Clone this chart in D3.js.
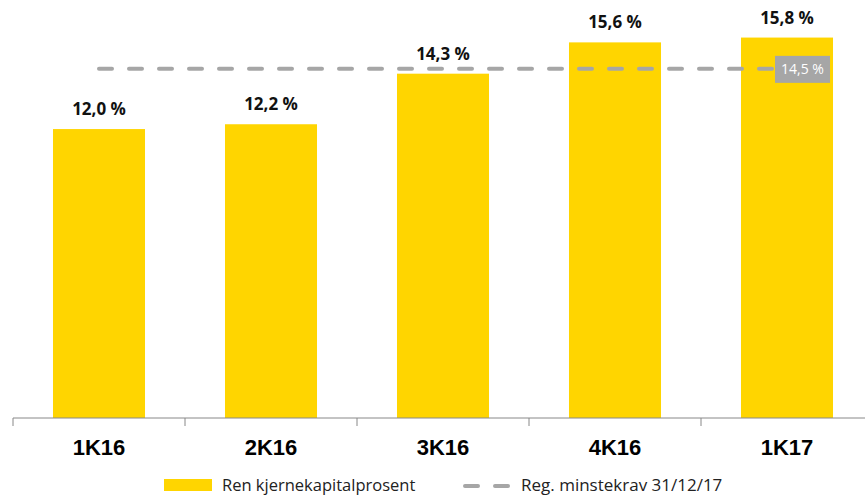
<!DOCTYPE html>
<html>
<head>
<meta charset="utf-8">
<script src="https://cdn.jsdelivr.net/npm/d3@7"></script>
<style>
  html, body { margin: 0; padding: 0; background: #ffffff; }
  svg { display: block; }
</style>
</head>
<body>
<svg id="chart" width="865" height="500"></svg>
<script>
// Quarterly CET1 ratio (percent) against the regulatory minimum
const categories = ["1K16", "2K16", "3K16", "4K16", "1K17"];
const ratioValues = [12.0, 12.2, 14.3, 15.6, 15.8];
const requirementValues = [14.5, 14.5, 14.5, 14.5, 14.5];
const seriesNames = ["Ren kjernekapitalprosent", "Reg. minstekrav 31/12/17"];

const fmt = v => d3.format(".1f")(v).replace(".", ",") + " %";

const svg = d3.select("#chart");
const baseY = 418;

const x = d3.scaleBand()
  .domain(categories)
  .range([13, 873])
  .paddingInner(0.465)
  .paddingOuter(0.2325);

const y = d3.scaleLinear()
  .domain([0, 17.36])
  .range([baseY, 0]);

const barColor = "#FFD500";
const lineColor = "#A6A6A6";

// Bars
svg.append("g")
  .selectAll("rect")
  .data(ratioValues)
  .join("rect")
  .attr("x", (d, i) => x(categories[i]))
  .attr("y", d => y(d))
  .attr("width", x.bandwidth())
  .attr("height", d => baseY - y(d))
  .attr("fill", barColor);

// Bar value labels
svg.append("g")
  .selectAll("text")
  .data(ratioValues)
  .join("text")
  .attr("x", (d, i) => x(categories[i]) + x.bandwidth() / 2)
  .attr("y", d => y(d) - 14)
  .attr("text-anchor", "middle")
  .attr("font-family", "'Open Sans', sans-serif")
  .attr("font-weight", 700)
  .attr("font-size", 17)
  .attr("fill", "#111")
  .text(d => fmt(d));

// Regulatory requirement line
const line = d3.line()
  .x((d, i) => x(categories[i]) + x.bandwidth() / 2)
  .y(d => y(d));

svg.append("path")
  .datum(requirementValues)
  .attr("d", line)
  .attr("fill", "none")
  .attr("stroke", lineColor)
  .attr("stroke-width", 4)
  .attr("stroke-linecap", "round")
  .attr("stroke-dasharray", "13,17");

// Label on the last point of the requirement line
const lastI = requirementValues.length - 1;
const lx = x(categories[lastI]) + x.bandwidth() / 2 - 12;
const ly = y(requirementValues[lastI]);
const lbl = svg.append("g");
lbl.append("rect")
  .attr("x", lx)
  .attr("y", ly - 13)
  .attr("width", 55)
  .attr("height", 27)
  .attr("fill", lineColor);
lbl.append("text")
  .attr("x", lx + 27.5)
  .attr("y", ly + 5.5)
  .attr("text-anchor", "middle")
  .attr("font-family", "'Open Sans', sans-serif")
  .attr("font-size", 14)
  .attr("fill", "#ffffff")
  .text(fmt(requirementValues[lastI]));

// Category axis
const axis = svg.append("g");
axis.append("line")
  .attr("x1", 13).attr("x2", 865)
  .attr("y1", baseY).attr("y2", baseY)
  .attr("stroke", "#888888").attr("stroke-width", 1);

const step = x.step();
const tickPos = d3.range(categories.length + 1).map(i => 13 + i * step);
axis.selectAll("line.tick")
  .data(tickPos)
  .join("line")
  .attr("class", "tick")
  .attr("x1", d => d).attr("x2", d => d)
  .attr("y1", baseY).attr("y2", baseY + 8)
  .attr("stroke", "#888888").attr("stroke-width", 1);

axis.selectAll("text")
  .data(categories)
  .join("text")
  .attr("x", d => x(d) + x.bandwidth() / 2)
  .attr("y", 455)
  .attr("text-anchor", "middle")
  .attr("font-family", "'Liberation Sans', Arial, sans-serif")
  .attr("font-weight", 700)
  .attr("font-size", 22)
  .attr("fill", "#000")
  .text(d => d);

// Legend
const legend = svg.append("g");
legend.append("rect")
  .attr("x", 164).attr("y", 479)
  .attr("width", 48).attr("height", 12)
  .attr("fill", barColor);
legend.append("text")
  .attr("x", 222).attr("y", 491)
  .attr("font-family", "'Open Sans', sans-serif")
  .attr("font-size", 16.5)
  .attr("fill", "#222")
  .text(seriesNames[0]);
legend.append("line")
  .attr("x1", 465).attr("x2", 509)
  .attr("y1", 486).attr("y2", 486)
  .attr("stroke", lineColor)
  .attr("stroke-width", 4)
  .attr("stroke-linecap", "round")
  .attr("stroke-dasharray", "13,17");
legend.append("text")
  .attr("x", 521).attr("y", 491)
  .attr("font-family", "'Open Sans', sans-serif")
  .attr("font-size", 17)
  .attr("fill", "#222")
  .text(seriesNames[1]);
</script>
</body>
</html>
